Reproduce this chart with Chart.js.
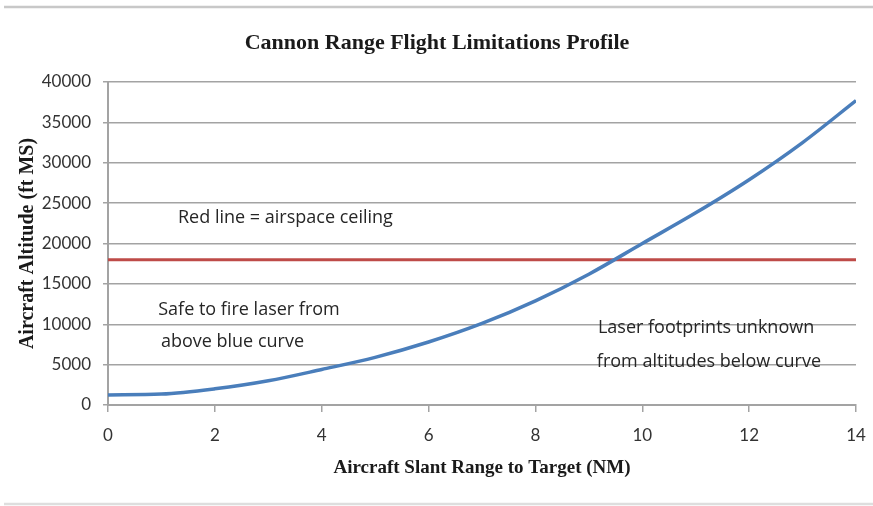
<!DOCTYPE html>
<html>
<head>
<meta charset="utf-8">
<title>Cannon Range Flight Limitations Profile</title>
<script src="https://cdn.jsdelivr.net/npm/chart.js@4.4.1/dist/chart.umd.min.js"></script>
<style>
  html, body { margin: 0; padding: 0; background: #fff; }
  #wrap { width: 873px; height: 506px; position: relative; }
</style>
</head>
<body>
<div id="wrap"><canvas id="myChart" width="873" height="506"></canvas></div>
<script>
// dados
const rangeNM = [0, 1, 2, 3, 4, 5, 6, 7, 8, 9, 10, 11, 12, 13, 14];
const altitudeFt = [1250, 1350, 2000, 3000, 4400, 5900, 7800, 10100, 12900, 16200, 20000, 23800, 27900, 32500, 37700];
const ceilingRange = [0, 14];
const ceilingFt = [18000, 18000];
const xTicks = [0, 2, 4, 6, 8, 10, 12, 14];
const yTicks = [0, 5000, 10000, 15000, 20000, 25000, 30000, 35000, 40000];

// textos soltos dentro do gráfico (posição em unidades dos eixos)
const notes = [
    { text: 'Red line = airspace ceiling', x: 1.31, y: 23150 },
    { text: 'Safe to fire laser from', x: 0.94, y: 11750 },
    { text: 'above blue curve', x: 0.99, y: 7800 },
    { text: 'Laser footprints unknown', x: 9.17, y: 9550 },
    { text: 'from altitudes below curve', x: 9.15, y: 5330 }
];

const gridColor = '#a3a3a3';

// linhas cinza de cima e de baixo, título e notas
const extras = {
    id: 'extras',
    beforeDraw(chart) {
        const c = chart.ctx;
        c.save();
        c.fillStyle = '#fff';
        c.fillRect(0, 0, chart.width, chart.height);
        c.lineWidth = 2.5;
        c.strokeStyle = '#c8c8c8';
        c.beginPath();
        c.moveTo(4, 7); c.lineTo(chart.width, 7);
        c.stroke();
        c.strokeStyle = '#dedede';
        c.beginPath();
        c.moveTo(4, 504); c.lineTo(chart.width, 504);
        c.stroke();
        c.restore();
    },
    afterDraw(chart) {
        const c = chart.ctx;
        const xs = chart.scales.x, ys = chart.scales.y;
        c.save();
        c.fillStyle = '#1a1a1a';
        c.font = 'bold 22px "Liberation Serif"';
        c.textAlign = 'center';
        c.textBaseline = 'middle';
        c.fillText('Cannon Range Flight Limitations Profile', 437, 43);
        c.fillStyle = '#262626';
        c.font = '18px "Open Sans"';
        c.textAlign = 'left';
        notes.forEach(n => {
            c.fillText(n.text, xs.getPixelForValue(n.x), ys.getPixelForValue(n.y));
        });
        c.restore();
    }
};

const ctx = document.getElementById('myChart').getContext('2d');
const myChart = new Chart(ctx, {
    type: 'line',
    data: {
        datasets: [{
            label: 'Altitude',
            data: rangeNM.map((r, i) => ({ x: r, y: altitudeFt[i] })),
            borderColor: '#4a7ebb',
            borderWidth: 3.5,
            pointRadius: 0,
            cubicInterpolationMode: 'monotone',
            fill: false
        }, {
            label: 'Ceiling',
            data: ceilingRange.map((r, i) => ({ x: r, y: ceilingFt[i] })),
            borderColor: '#be4b48',
            borderWidth: 3,
            pointRadius: 0,
            fill: false
        }]
    },
    options: {
        responsive: false,
        animation: false,
        layout: { padding: { top: 82, right: 17, left: 0, bottom: 0 } },
        plugins: {
            legend: { display: false },
            tooltip: { enabled: false }
        },
        scales: {
            x: {
                type: 'linear',
                min: 0,
                max: 14,
                afterBuildTicks: s => { s.ticks = xTicks.map(v => ({ value: v })); },
                afterFit: s => { s.height = 101; s.paddingLeft = 0; s.paddingRight = 0; },
                grid: { drawOnChartArea: false, drawTicks: true, tickLength: 7, color: gridColor, lineWidth: 1.5 },
                border: { color: gridColor, width: 2 },
                ticks: { padding: 13, color: '#333', font: { family: 'Lato', size: 17 } },
                title: {
                    display: true,
                    text: 'Aircraft Slant Range to Target (NM)',
                    color: '#1a1a1a',
                    font: { family: 'Liberation Serif', size: 19, weight: 'bold' },
                    padding: { top: 0, bottom: 27 }
                }
            },
            y: {
                min: 0,
                max: 40000,
                afterBuildTicks: s => { s.ticks = yTicks.map(v => ({ value: v })); },
                afterFit: s => { s.width = 108; s.paddingTop = 0; s.paddingBottom = 0; },
                grid: { color: gridColor, lineWidth: 1.5, tickLength: 5 },
                border: { color: gridColor, width: 2 },
                ticks: { padding: 12, color: '#333', font: { family: 'Lato', size: 17 }, callback: v => String(v) },
                title: {
                    display: true,
                    text: 'Aircraft Altitude (ft MS)',
                    color: '#1a1a1a',
                    font: { family: 'Liberation Serif', size: 20, weight: 'bold' },
                    padding: { top: 16, bottom: 0 }
                }
            }
        }
    },
    plugins: [extras]
});
</script>
</body>
</html>
